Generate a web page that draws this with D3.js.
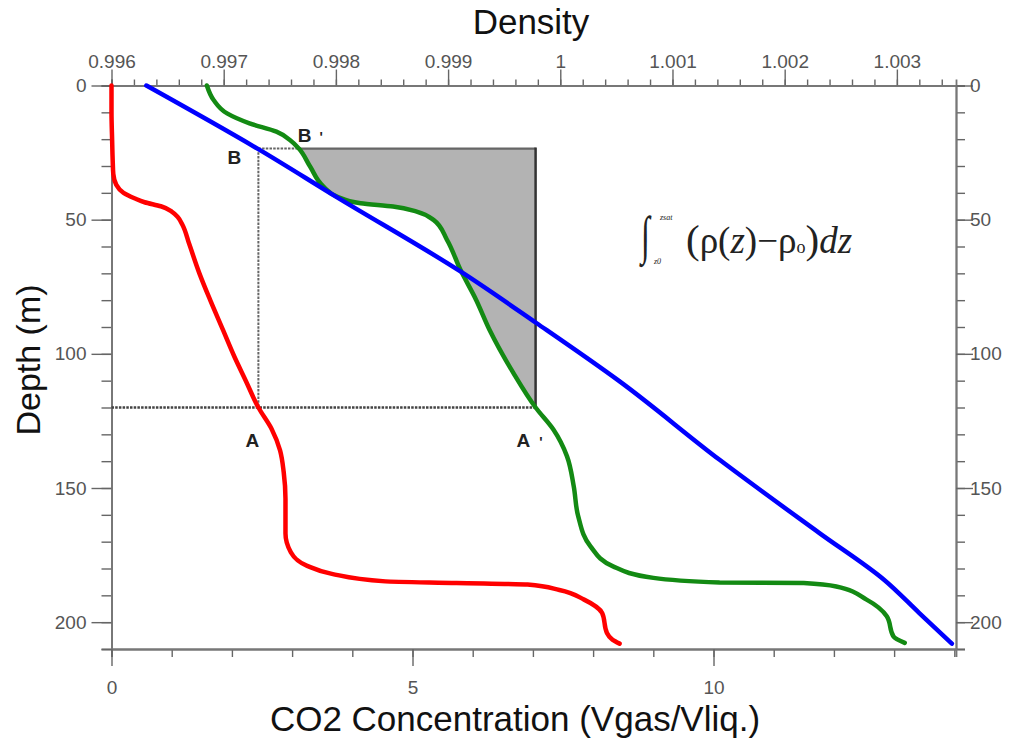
<!DOCTYPE html>
<html>
<head>
<meta charset="utf-8">
<script src="https://cdn.jsdelivr.net/npm/d3@7"></script>
<style>
  html, body { margin: 0; padding: 0; background: #fff; }
  svg { display: block; }
  .tick text { font-family: "Liberation Sans", Arial, sans-serif; font-size: 19px; fill: #555; }
  .title { font-family: "Liberation Sans", Arial, sans-serif; fill: #111; }
  .pt { font-family: "Liberation Sans", Arial, sans-serif; font-weight: bold; font-size: 19px; fill: #222; }
  .eq { font-family: "Liberation Serif", "Times New Roman", serif; fill: #222; }
</style>
</head>
<body>
<svg id="chart" width="1026" height="742"></svg>
<script>
// CO2 concentration profile: [depth (m), Vgas/Vliq]
const co2Profile = [
  [0, 0], [10, 0], [20, 0.01], [28, 0.02], [33, 0.03], [37, 0.08], [40, 0.2],
  [42, 0.38], [43.5, 0.55], [45, 0.82], [47, 1.0], [49, 1.1], [52, 1.18],
  [59, 1.29], [70, 1.46], [80, 1.64], [91, 1.85], [101, 2.04], [110, 2.23],
  [120, 2.44], [128, 2.66], [136, 2.8], [144, 2.86], [154, 2.89], [167, 2.89],
  [174, 2.98], [179, 3.25], [182, 3.66], [184.8, 4.55], [185.4, 5.73],
  [186, 6.91], [188, 7.44], [191.6, 7.85], [196.6, 8.15], [204, 8.23],
  [206.5, 8.32], [208, 8.44]
];

// Density of water without dissolved gas: [depth (m), density]
const densityPure = [
  [0, 0.99631], [24, 0.99732], [41.4, 0.99800], [69.3, 0.99911], [88.6, 0.99979],
  [110, 1.00052], [139.5, 1.00142], [166.8, 1.00231], [184, 1.00288],
  [196.6, 1.00320], [208, 1.00349]
];

// Density with dissolved CO2: [depth (m), density]
const densityCO2 = [
  [0, 0.99685], [5.4, 0.99691], [10.4, 0.99703], [14.1, 0.99723], [17.2, 0.99747],
  [20.3, 0.99759], [23.5, 0.99767], [30.2, 0.99777], [37.7, 0.99789], [41.4, 0.99801],
  [43.9, 0.99822], [45.1, 0.99851], [47, 0.99872], [50.1, 0.99887], [57.5, 0.99899],
  [68.7, 0.99911], [79.9, 0.99925], [91.1, 0.99937], [107, 0.99958], [120, 0.99978],
  [128.3, 0.99994], [138.2, 1.00006], [149.4, 1.00012], [160.6, 1.00016],
  [171.8, 1.00027], [179.2, 1.00047], [183.5, 1.00083], [185.2, 1.00142],
  [185.4, 1.00217], [186.7, 1.00246], [191.6, 1.00273], [197.8, 1.00291],
  [205.3, 1.00297], [207.7, 1.00307]
];

// Tick values
const depthMajor = [0, 50, 100, 150, 200];
const depthMinor = d3.range(0, 211, 10);
const densityMajor = [0.996, 0.997, 0.998, 0.999, 1.000, 1.001, 1.002, 1.003];
const densityMinor = d3.range(0, 38).map(i => +(0.996 + i * 0.0002).toFixed(4));
const co2Major = [0, 5, 10];
const co2Minor = d3.range(0, 15, 1);

// Construction points: A on the CO2 curve, A' and B' on the density curve
const zSat = 120;        // depth of A / A'
const zB = 23.5;         // depth of B / B'
const co2A = 2.44;       // CO2 at A
const rhoA = 0.99978;    // density at A'
const rhoB = 0.99767;    // density at B'

const svg = d3.select("#chart");
svg.append("rect").attr("width", 1026).attr("height", 742).attr("fill", "#fff");

const x0 = 111.5, x1 = 956, y0 = 85.5, y1 = 649;
const y = d3.scaleLinear().domain([0, 210]).range([y0, y1]);
const xC = d3.scaleLinear().domain([0, 14.028]).range([x0, x1]);
const xD = d3.scaleLinear().domain([0.996, 1.003527]).range([x0, x1]);

const fmtD = d => String(+d.toFixed(3));

function styleAxis(g) {
  g.selectAll("path.domain").attr("stroke", "#777").attr("stroke-width", 1.8);
  g.selectAll(".tick line").attr("stroke", "#666").attr("stroke-width", 1.4);
}

// minor ticks
svg.append("g").attr("transform", `translate(${x0},0)`)
  .call(d3.axisLeft(y).tickValues(depthMinor).tickSize(10).tickFormat("")).call(styleAxis);
svg.append("g").attr("transform", `translate(${x1},0)`)
  .call(d3.axisRight(y).tickValues(depthMinor).tickSize(9).tickFormat("")).call(styleAxis);
svg.append("g").attr("transform", `translate(0,${y0})`)
  .call(d3.axisTop(xD).tickValues(densityMinor).tickSize(6).tickFormat("")).call(styleAxis);
svg.append("g").attr("transform", `translate(0,${y1})`)
  .call(d3.axisBottom(xC).tickValues(co2Minor).tickSize(8).tickFormat("")).call(styleAxis);

// major ticks with labels
svg.append("g").attr("transform", `translate(${x0},0)`)
  .call(d3.axisLeft(y).tickValues(depthMajor).tickSize(20).tickSizeOuter(0).tickPadding(5)).call(styleAxis);
svg.append("g").attr("transform", `translate(${x1},0)`)
  .call(d3.axisRight(y).tickValues(depthMajor).tickSize(17).tickSizeOuter(0).tickPadding(-3)).call(styleAxis);
svg.append("g").attr("transform", `translate(0,${y0})`)
  .call(d3.axisTop(xD).tickValues(densityMajor).tickSize(16).tickSizeOuter(0).tickPadding(2).tickFormat(fmtD)).call(styleAxis);
svg.append("g").attr("transform", `translate(0,${y1})`)
  .call(d3.axisBottom(xC).tickValues(co2Major).tickSize(17).tickSizeOuter(0).tickPadding(15)).call(styleAxis);

// shaded integral area between density curve and the vertical through A'
const areaPts = densityCO2.filter(d => d[0] >= zB && d[0] <= zSat);
svg.append("path")
  .datum(areaPts)
  .attr("fill", "#b3b3b3")
  .attr("d", d3.area().curve(d3.curveMonotoneY)
    .y(d => y(d[0])).x0(d => xD(d[1])).x1(xD(rhoA)));
svg.append("path")
  .attr("fill", "none").attr("stroke", "#666").attr("stroke-width", 2.2)
  .attr("d", `M${xD(rhoB)},${y(zB)}H${xD(rhoA)}`);
svg.append("path")
  .attr("fill", "none").attr("stroke", "#333").attr("stroke-width", 2.5)
  .attr("d", `M${xD(rhoA)},${y(zB) - 1}V${y(zSat)}`);

// construction lines
const dash = sel => sel.attr("fill", "none").attr("stroke", "#444").attr("stroke-width", 2.4).attr("stroke-dasharray", "2.5,1.2");
svg.append("path").call(dash).attr("d", `M${x0},${y(zSat)}H${xD(rhoA)}`);
svg.append("path").call(dash).attr("stroke", "#666").attr("stroke-width", 2).attr("d", `M${xC(co2A)},${y(zB)}V${y(zSat)}`);
svg.append("path").call(dash).attr("stroke", "#666").attr("stroke-width", 2).attr("d", `M${xC(co2A)},${y(zB)}H${xD(rhoB)}`);

// profiles
const lineC = d3.line().curve(d3.curveMonotoneY).x(d => xC(d[1])).y(d => y(d[0]));
const lineD = d3.line().curve(d3.curveMonotoneY).x(d => xD(d[1])).y(d => y(d[0]));
svg.append("path").datum(co2Profile).attr("d", lineC)
  .attr("fill", "none").attr("stroke", "#ff0000").attr("stroke-width", 4.5).attr("stroke-linecap", "round");
svg.append("path").datum(densityCO2).attr("d", lineD)
  .attr("fill", "none").attr("stroke", "#138a13").attr("stroke-width", 4.5).attr("stroke-linecap", "round");
svg.append("path").datum(densityPure).attr("d", lineD)
  .attr("fill", "none").attr("stroke", "#0000ff").attr("stroke-width", 4.5).attr("stroke-linecap", "round");

// point labels
const xA = xC(co2A);
svg.append("text").attr("class", "pt").attr("x", xA - 31).attr("y", y(zB) + 15).text("B");
const tB = svg.append("text").attr("class", "pt").attr("x", xD(rhoB) - 1).attr("y", y(zB) - 7).text("B");
tB.append("tspan").attr("dx", 8).attr("font-size", 14).text("'");
svg.append("text").attr("class", "pt").attr("x", xA - 13).attr("y", y(zSat) + 39).text("A");
const tA = svg.append("text").attr("class", "pt").attr("x", xD(rhoA) - 19).attr("y", y(zSat) + 39).text("A");
tA.append("tspan").attr("dx", 9).attr("font-size", 14).text("'");

// integral expression
const eq = svg.append("g");
eq.append("text").attr("class", "eq").attr("x", 641).attr("y", 253)
  .attr("font-size", 46).attr("transform", "translate(641,253) scale(0.7,1.15) translate(-641,-253)").text("∫");
eq.append("text").attr("class", "eq").attr("x", 660).attr("y", 220).attr("font-size", 8).attr("font-style", "italic").text("zsat");
eq.append("text").attr("class", "eq").attr("x", 654).attr("y", 264).attr("font-size", 8).attr("font-style", "italic").text("z0");
const ex = eq.append("text").attr("class", "eq").attr("x", 686).attr("y", 253).attr("font-size", 37);
ex.append("tspan").attr("font-size", 41).text("(");
ex.append("tspan").text("ρ(");
ex.append("tspan").attr("font-style", "italic").text("z");
ex.append("tspan").text(")−ρ");
ex.append("tspan").attr("font-size", 18).text("o");
ex.append("tspan").attr("font-size", 41).text(")");
ex.append("tspan").attr("font-style", "italic").text("dz");

// axis titles
svg.append("text").attr("class", "title").attr("x", 531).attr("y", 34)
  .attr("text-anchor", "middle").attr("font-size", 35).text("Density");
svg.append("text").attr("class", "title").attr("x", 515).attr("y", 731)
  .attr("text-anchor", "middle").attr("font-size", 35).text("CO2 Concentration (Vgas/Vliq.)");
svg.append("text").attr("class", "title")
  .attr("transform", "translate(40,360) rotate(-90)")
  .attr("text-anchor", "middle").attr("font-size", 34).text("Depth (m)");
</script>
</body>
</html>
